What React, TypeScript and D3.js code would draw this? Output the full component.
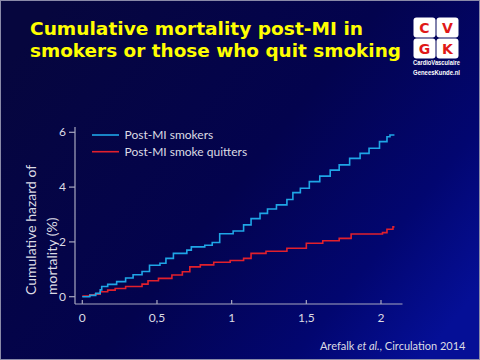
import React from "react";
import * as d3 from "d3";

const titleLines = ["Cumulative mortality post-MI in", "smokers or those who quit smoking"];
const seriesNames = ["Post-MI smokers", "Post-MI smoke quitters"];
const xTicks = [0, 0.5, 1, 1.5, 2];
const xTickLabels = ["0", "0,5", "1", "1,5", "2"];
const yTicks = [0, 2, 4, 6];

const smokersT = [0, 0.05, 0.09, 0.12, 0.13, 0.17, 0.23, 0.29, 0.34, 0.4, 0.45, 0.52, 0.56, 0.61, 0.7, 0.73, 0.82, 0.87, 0.92, 1.01, 1.08, 1.13, 1.19, 1.24, 1.3, 1.37, 1.41, 1.46, 1.52, 1.59, 1.66, 1.72, 1.79, 1.86, 1.92, 1.99, 2.04, 2.06, 2.09];
const smokersV = [0, 0.05, 0.12, 0.25, 0.37, 0.45, 0.55, 0.68, 0.8, 0.92, 1.15, 1.22, 1.4, 1.58, 1.7, 1.82, 1.88, 1.98, 2.3, 2.4, 2.62, 2.85, 3.04, 3.2, 3.35, 3.55, 3.8, 3.96, 4.2, 4.4, 4.62, 4.81, 5.05, 5.23, 5.42, 5.66, 5.84, 5.9, 5.9];

const quittersT = [0, 0.05, 0.085, 0.12, 0.17, 0.22, 0.29, 0.4, 0.44, 0.51, 0.6, 0.67, 0.72, 0.79, 0.88, 0.99, 1.08, 1.13, 1.23, 1.37, 1.5, 1.61, 1.72, 1.8, 2.01, 2.04, 2.08, 2.09];
const quittersV = [0.02, 0.07, 0.09, 0.18, 0.24, 0.3, 0.37, 0.46, 0.58, 0.67, 0.79, 0.91, 1.09, 1.16, 1.26, 1.32, 1.4, 1.58, 1.66, 1.77, 1.95, 2.04, 2.13, 2.29, 2.34, 2.46, 2.55, 2.55];

export default function App() {
  const W = 480, H = 360;
  const x = d3.scaleLinear().domain([0, 2]).range([82.3, 381]);
  const y = d3.scaleLinear().domain([0, 6]).range([296.7, 132.3]);
  const line = d3
    .line<[number, number]>()
    .x((d) => x(d[0]))
    .y((d) => y(d[1]))
    .curve(d3.curveStepAfter);
  const smokers = smokersT.map((t, i) => [t, smokersV[i]] as [number, number]);
  const quitters = quittersT.map((t, i) => [t, quittersV[i]] as [number, number]);
  const axisColor = "#a8a8c0";
  const textColor = "#dcdce4";
  const sans = "Lato, 'Open Sans', sans-serif";
  const colors = ["#1fa6e6", "#e2202c"];
  const xAxisY = 304;
  const yAxisX = 75;
  const logoFont = "'Liberation Sans Narrow', 'Liberation Sans', sans-serif";

  return (
    <svg width={W} height={H} style={{ position: "absolute", left: 0, top: 0 }}>
      <defs>
        <linearGradient id="bg" x1="0" y1="0.2" x2="1" y2="0.8">
          <stop offset="0" stopColor="#06063e" />
          <stop offset="0.5" stopColor="#03034e" />
          <stop offset="0.8" stopColor="#020670" />
          <stop offset="1" stopColor="#050f96" />
        </linearGradient>
      </defs>
      <rect x={0} y={0} width={W} height={H} fill="url(#bg)" />
      <rect x={0.5} y={0.5} width={W - 1} height={H - 1} fill="none" stroke="#8a8aa8" strokeWidth={1} />

      {titleLines.map((t, i) => (
        <text
          key={t}
          x={30}
          y={35 + i * 21.5}
          fill="#ffff00"
          fontFamily="'DejaVu Sans', Verdana, sans-serif"
          fontWeight="bold"
          fontSize={18}
          textLength={i === 0 ? 333 : 371}
          lengthAdjust="spacingAndGlyphs"
        >
          {t}
        </text>
      ))}

      {/* logo */}
      <g>
        {[
          [413.5, 17.5, "C"],
          [436.5, 17.5, "V"],
          [413.5, 38.5, "G"],
          [436.5, 38.5, "K"],
        ].map(([lx, ly, ch]) => (
          <g key={ch as string}>
            <rect x={lx as number} y={ly as number} width={22} height={20} rx={3} fill="#ffffff" />
            <text
              x={(lx as number) + 11}
              y={(ly as number) + 15}
              textAnchor="middle"
              fill="#e01818"
              fontFamily="'DejaVu Sans', sans-serif"
              fontWeight="bold"
              fontSize={14}
            >
              {ch}
            </text>
          </g>
        ))}
        <text x={413} y={65} fill="#ffffff" fontFamily={logoFont} fontSize={6.3} fontWeight="bold" textLength={47} lengthAdjust="spacingAndGlyphs">
          CardioVasculaire
        </text>
        <text x={413} y={74.5} fill="#ffffff" fontFamily={logoFont} fontSize={6.3} fontWeight="bold" textLength={47} lengthAdjust="spacingAndGlyphs">
          GeneesKunde.nl
        </text>
      </g>

      {/* axes */}
      <line x1={yAxisX} x2={yAxisX} y1={127} y2={xAxisY} stroke={axisColor} strokeWidth={1.2} />
      <line x1={yAxisX} x2={402.5} y1={xAxisY} y2={xAxisY} stroke={axisColor} strokeWidth={1.2} />
      {yTicks.map((v) => (
        <g key={v}>
          <line x1={69} x2={yAxisX} y1={y(v)} y2={y(v)} stroke={axisColor} strokeWidth={1.2} />
          <text x={66} y={y(v) + 4} textAnchor="end" fill={textColor} fontFamily={sans} fontSize={12}>
            {v}
          </text>
        </g>
      ))}
      {xTicks.map((v, i) => (
        <g key={v}>
          <line x1={x(v)} x2={x(v)} y1={xAxisY} y2={xAxisY - 4} stroke={axisColor} strokeWidth={1.2} />
          <text x={x(v)} y={322} textAnchor="middle" fill={textColor} fontFamily={sans} fontSize={12}>
            {xTickLabels[i]}
          </text>
        </g>
      ))}

      {/* y axis title */}
      <text transform="translate(35.5,295) rotate(-90)" fill={textColor} fontFamily={sans} fontSize={14}>
        Cumulative hazard of
      </text>
      <text transform="translate(56.5,295) rotate(-90)" fill={textColor} fontFamily={sans} fontSize={14}>
        mortality (%)
      </text>

      {/* lines */}
      <path d={line(quitters) || ""} fill="none" stroke={colors[1]} strokeWidth={1.6} />
      <path d={line(smokers) || ""} fill="none" stroke={colors[0]} strokeWidth={1.6} />

      {/* legend */}
      {seriesNames.map((n, i) => (
        <g key={n}>
          <line x1={92} x2={119} y1={135 + i * 16.7} y2={135 + i * 16.7} stroke={colors[i]} strokeWidth={1.6} />
          <text x={124.5} y={139 + i * 16.7} fill={textColor} fontFamily={sans} fontSize={12}>
            {n}
          </text>
        </g>
      ))}

      {/* citation */}
      <text x={465.5} y={350} textAnchor="end" fill={textColor} fontFamily={sans} fontSize={11}>
        Arefalk <tspan fontStyle="italic">et al.</tspan>, Circulation 2014
      </text>
    </svg>
  );
}
